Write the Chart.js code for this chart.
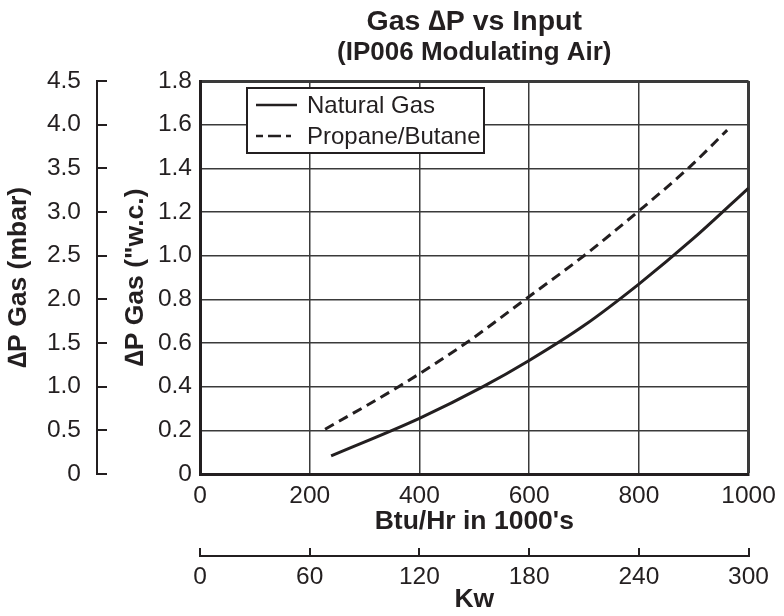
<!DOCTYPE html>
<html lang="en">
<head>
    <meta charset="UTF-8">
    <title>Gas ΔP vs Input</title>
    <script src="https://cdn.jsdelivr.net/npm/chart.js"></script>
    <style>
        body { margin: 0; background: #fff; }
        #myChart { display: block; }
    </style>
</head>
<body>
    <canvas id="myChart" width="784" height="616"></canvas>
    <script>
        // values
        const btuTicks = ['0', '200', '400', '600', '800', '1000'];
        const kwTicks = ['0', '60', '120', '180', '240', '300'];
        const wcTicks = ['0', '0.2', '0.4', '0.6', '0.8', '1.0', '1.2', '1.4', '1.6', '1.8'];
        const mbarTicks = ['0', '0.5', '1.0', '1.5', '2.0', '2.5', '3.0', '3.5', '4.0', '4.5'];

        const natGasBtu = [239, 400, 516, 600, 700, 800, 900, 1000];
        const natGasWc = [0.083, 0.255, 0.4, 0.52, 0.68, 0.87, 1.08, 1.31];
        const propBtu = [228, 362, 485, 593, 700, 800, 892, 961];
        const propWc = [0.205, 0.4, 0.6, 0.8, 1.0, 1.205, 1.405, 1.575];

        const ink = '#231f20';
        const gridInk = '#3a3a3a';

        Chart.defaults.font.family = '"Liberation Sans", Arial, sans-serif';
        Chart.defaults.color = ink;

        const toPoints = (xs, ys) => xs.map((x, i) => ({ x: x, y: ys[i] }));
        const fromList = list => (v, i) => list[i] !== undefined ? list[i] : String(v);

        // legend drawn as a boxed panel inside the plot, like the original
        const boxLegend = {
            id: 'boxLegend',
            afterDatasetsDraw(chart) {
                const ctx = chart.ctx;
                const left = 247, top = 88, w = 237, h = 65;
                ctx.save();
                ctx.fillStyle = '#fff';
                ctx.fillRect(left, top, w, h);
                ctx.lineWidth = 2;
                ctx.strokeStyle = ink;
                ctx.strokeRect(left, top, w, h);
                ctx.font = '24px "Liberation Sans", Arial, sans-serif';
                ctx.textBaseline = 'middle';
                ctx.fillStyle = ink;
                chart.data.datasets.forEach((ds, i) => {
                    const y = top + 17 + i * 31;
                    ctx.beginPath();
                    ctx.lineWidth = 2.5;
                    ctx.setLineDash(ds.borderDash && ds.borderDash.length ? [7, 5, 13, 5, 5, 50] : []);
                    ctx.moveTo(left + 9, y);
                    ctx.lineTo(left + 50, y);
                    ctx.stroke();
                    ctx.setLineDash([]);
                    ctx.fillText(ds.label, left + 60, y + 1);
                });
                ctx.restore();
            }
        };

        const ctx = document.getElementById('myChart').getContext('2d');
        const myChart = new Chart(ctx, {
            type: 'line',
            data: {
                datasets: [{
                    label: 'Natural Gas',
                    data: toPoints(natGasBtu, natGasWc),
                    borderColor: ink,
                    borderWidth: 3,
                    pointRadius: 0,
                    cubicInterpolationMode: 'monotone',
                    fill: false
                }, {
                    label: 'Propane/Butane',
                    data: toPoints(propBtu, propWc),
                    borderColor: ink,
                    borderWidth: 3,
                    borderDash: [10, 6],
                    pointRadius: 0,
                    cubicInterpolationMode: 'monotone',
                    fill: false
                }]
            },
            options: {
                responsive: false,
                animation: false,
                devicePixelRatio: 1,
                layout: { padding: { left: 0, right: 31, top: 0, bottom: 0 } },
                plugins: {
                    legend: { display: false },
                    tooltip: { enabled: false },
                    title: {
                        display: true,
                        fullSize: false,
                        text: 'Gas ∆P vs Input',
                        color: ink,
                        font: { size: 28.5, weight: 'bold', lineHeight: 1.1 },
                        padding: { top: 6, bottom: 0 }
                    },
                    subtitle: {
                        display: true,
                        fullSize: false,
                        text: '(IP006 Modulating Air)',
                        color: ink,
                        font: { size: 26, weight: 'bold' },
                        padding: { top: 0, bottom: 12.5 }
                    }
                },
                scales: {
                    x: {
                        type: 'linear',
                        position: 'bottom',
                        weight: 0,
                        min: 0,
                        max: 1000,
                        ticks: { stepSize: 200, padding: 8, font: { size: 24.5 }, callback: fromList(btuTicks) },
                        grid: {
                            color: gridInk,
                            lineWidth: c => (c.tick && c.tick.value === 1000) ? 3 : 1.5,
                            drawTicks: false
                        },
                        border: { display: true, color: ink, width: 3 },
                        title: {
                            display: true,
                            text: "Btu/Hr in 1000's",
                            font: { size: 26.5, weight: 'bold' },
                            padding: { top: 0, bottom: 18 }
                        },
                        afterFit: s => { s.height = 82; }
                    },
                    xKw: {
                        type: 'linear',
                        position: 'bottom',
                        weight: 1,
                        min: 0,
                        max: 300,
                        ticks: { stepSize: 60, padding: 15, font: { size: 24.5 }, callback: fromList(kwTicks) },
                        grid: { drawOnChartArea: false, drawTicks: true, tickLength: -8, color: ink, lineWidth: 2 },
                        border: { display: true, color: ink, width: 2 },
                        title: {
                            display: true,
                            text: 'Kw',
                            font: { size: 26.5, weight: 'bold' },
                            padding: { top: 0, bottom: 0 }
                        },
                        afterFit: s => { s.height = 60; }
                    },
                    y: {
                        type: 'linear',
                        position: 'left',
                        weight: 0,
                        min: 0,
                        max: 1.8,
                        ticks: { stepSize: 0.2, padding: 8, font: { size: 24.5 }, callback: fromList(wcTicks) },
                        grid: {
                            color: gridInk,
                            lineWidth: c => (c.tick && c.tick.value > 1.79) ? 3 : 1.5,
                            drawTicks: false
                        },
                        border: { display: true, color: ink, width: 3 },
                        title: {
                            display: true,
                            text: '∆P Gas ("w.c.)',
                            font: { size: 26.5, weight: 'bold' },
                            padding: { top: 23, bottom: 0 }
                        },
                        afterFit: s => { s.width = 103; }
                    },
                    yMbar: {
                        type: 'linear',
                        position: 'left',
                        weight: 1,
                        min: 0,
                        max: 4.5,
                        ticks: { stepSize: 0.5, padding: 26, font: { size: 24.5 }, callback: fromList(mbarTicks) },
                        grid: { drawOnChartArea: false, drawTicks: true, tickLength: -10, color: ink, lineWidth: 2 },
                        border: { display: true, color: ink, width: 2 },
                        title: {
                            display: true,
                            text: '∆P Gas (mbar)',
                            font: { size: 26.5, weight: 'bold' },
                            padding: { top: 3, bottom: 0 }
                        },
                        afterFit: s => { s.width = 97; }
                    }
                }
            },
            plugins: [boxLegend]
        });
    </script>
</body>
</html>
